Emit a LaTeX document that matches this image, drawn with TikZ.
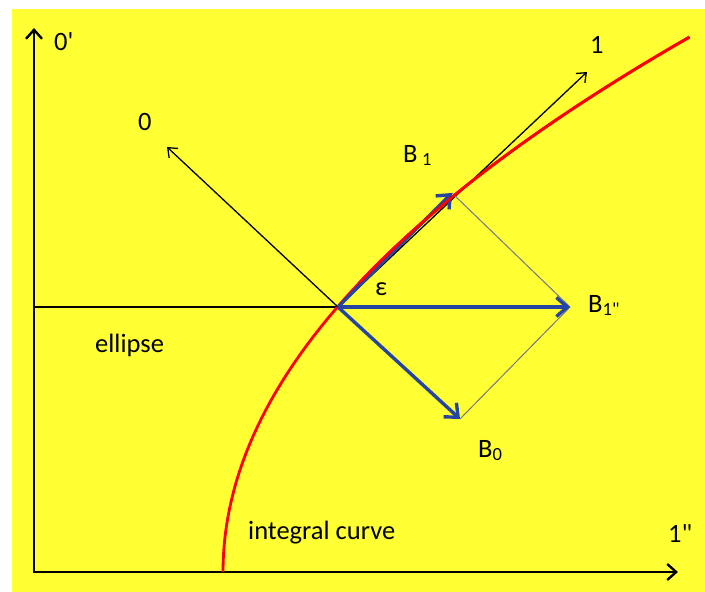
\documentclass[tikz,border=0pt]{standalone}
\usepackage{fontspec}
\setmainfont{Carlito}[Ligatures=TeXOff]
\usetikzlibrary{arrows.meta}
\definecolor{paper}{RGB}{255,255,51}
\definecolor{vecblue}{RGB}{38,68,162}
\definecolor{guidegray}{RGB}{112,120,138}

\begin{document}
\begin{tikzpicture}[
  x=1pt, y=-1pt,
  axis/.style={-{Straight Barb[length=9pt, width=16pt]}, line width=2.4pt},
  ray/.style={-{Straight Barb[length=8pt, width=13pt]}, line width=1.3pt},
  vec/.style={-{Straight Barb[length=11pt, width=19pt]}, line width=3.4pt, vecblue},
  guide/.style={line width=1pt, guidegray},
  curve/.style={line width=2.8pt, red},
  lbl/.style={anchor=base west, inner sep=0pt, font=\fontsize{26.5}{31}\selectfont}
]
\useasboundingbox (0,0) rectangle (705,592);
\fill[white] (0,0) rectangle (705,592);
\fill[paper] (12,9) rectangle (705,592);

\coordinate (O) at (34,572);
\coordinate (ytip) at (34,28);
\coordinate (xtip) at (678,572);
\coordinate (left) at (34,307);
\coordinate (P) at (338,307);
\coordinate (zero) at (167,147);
\coordinate (one) at (587,72);
\coordinate (b1) at (452,193);
\coordinate (b1pp) at (570,307);
\coordinate (b0) at (460,419);

% axes
\draw[axis, {Straight Barb[length=9pt, width=16pt]}-{Straight Barb[length=9pt, width=16pt]}]
  (ytip) -- (O) -- (xtip);
\draw[line width=1.6pt] (left) -- (P);

% integral curve
\draw[curve] plot[domain=0:5.35, samples=60] ({223+16.3*\x*\x}, {572-100*\x});

% frame 0,1
\draw[ray] (P) -- (zero);
\draw[ray] (P) -- (one);

% parallelogram
\draw[guide] (b1) -- (b1pp) -- (b0);
\draw[vec] (P) -- (b1);
\draw[vec] (P) -- (b1pp);
\draw[vec] (P) -- (b0);
\draw[curve] plot[domain=2.9:5.35, samples=30] ({223+16.3*\x*\x}, {572-100*\x});

% labels
\node[lbl] (lyaxis) at (54,50) {0'};
\node[lbl] (lzero) at (138,130) {0};
\node[lbl] (lone) at (590,53) {1};
\node[lbl] (lb1) at (403,162) {B\,\textsubscript{1}};
\node[lbl] (leps) at (375,295) {ε};
\node[lbl] (lb1pp) at (588,312) {B\textsubscript{1"}};
\node[lbl] (lb0) at (478,457) {B\textsubscript{0}};
\node[lbl] (lell) at (95,352) {ellipse};
\node[lbl] (lint) at (248,539) {integral curve};
\node[lbl] (lxaxis) at (668,542) {1"};
\end{tikzpicture}
\end{document}
